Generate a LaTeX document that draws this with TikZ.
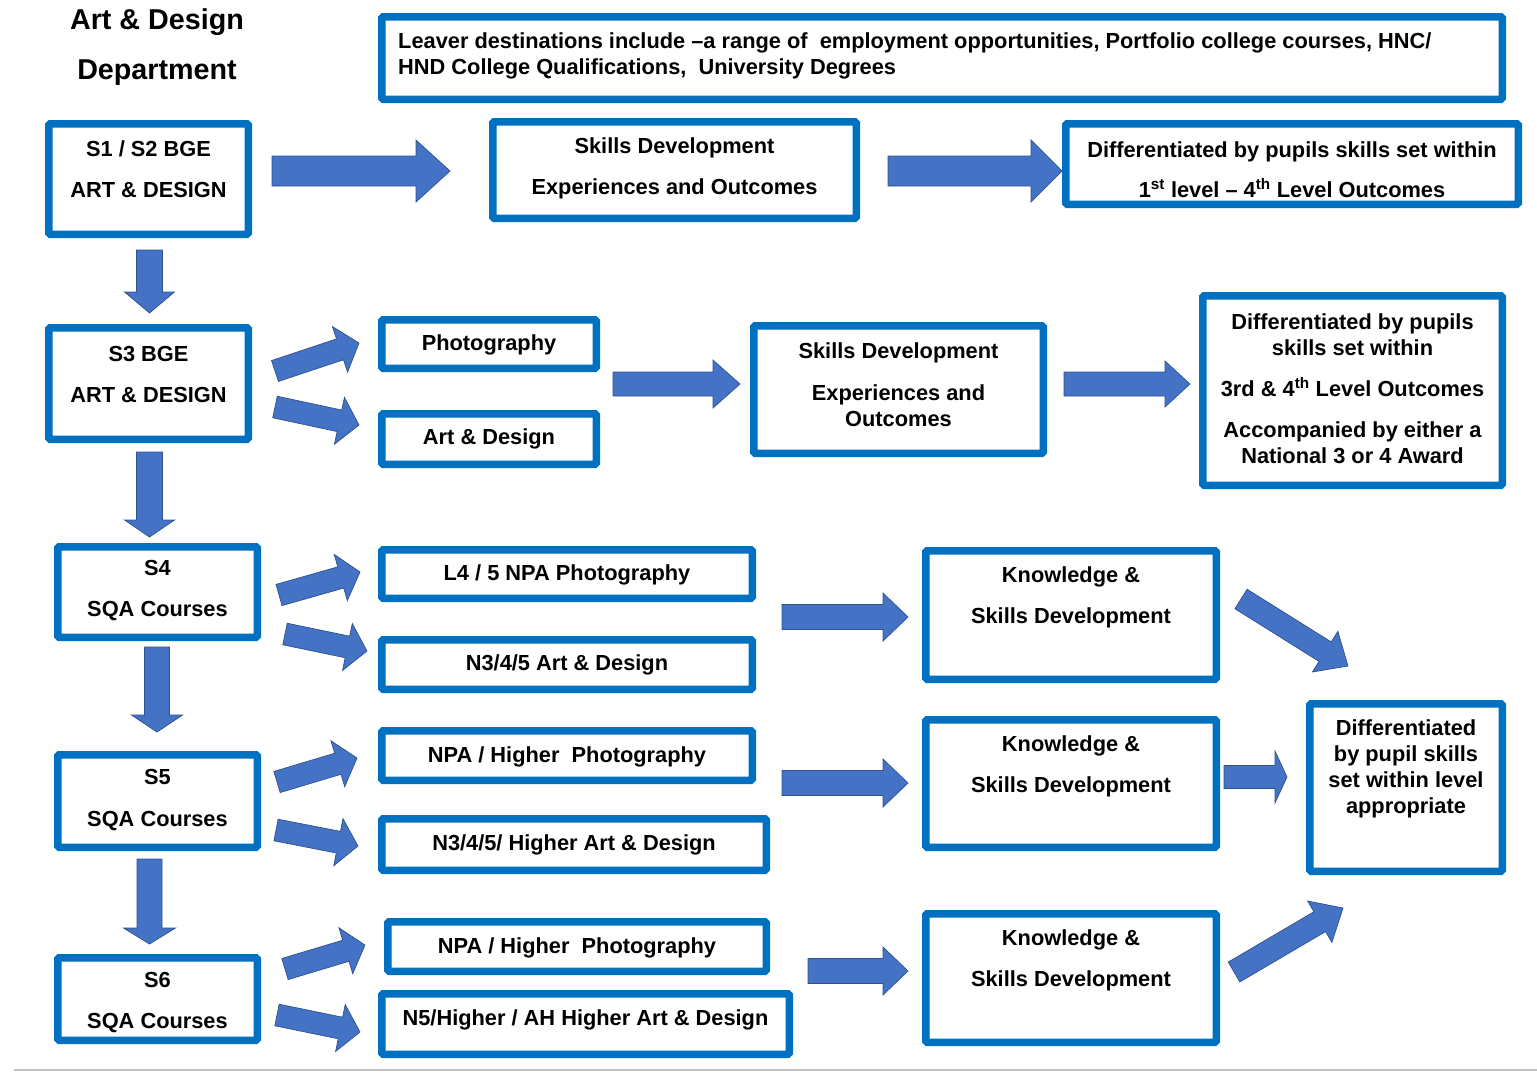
\documentclass[tikz,border=0pt]{standalone}
\usepackage{fontspec}
\setmainfont{Liberation Sans}
\usetikzlibrary{calc}

\definecolor{boxblue}{HTML}{0070C0}
\definecolor{arrowblue}{HTML}{4472C4}
\definecolor{arrowedge}{HTML}{2F528F}
\definecolor{rulegray}{HTML}{C0C0C0}

\tikzset{
  box/.style={draw=boxblue, line width=7.5pt, rounded corners=1.5pt, fill=white, inner sep=0pt},
  txt/.style={font=\bfseries\fontsize{21.8}{26}\selectfont, align=center, inner sep=0pt, yshift=-1.5pt},
  heading/.style={font=\bfseries\fontsize{28.7}{34}\selectfont, align=center, inner sep=0pt, yshift=-2pt},
  barrow/.style={fill=arrowblue, draw=arrowedge, line width=0.7pt},
}

% block arrow: start, end, shaft half width, head half width, head length
\newcommand{\barrow}[5]{%
  \filldraw[barrow] let \p1=(#1), \p2=(#2),
    \n1={atan2(\y2-\y1,\x2-\x1)}, \n2={veclen(\x2-\x1,\y2-\y1)} in
    [shift={(\p1)}, rotate=\n1]
    (0pt,#3) -- ({\n2-#5},#3) -- ({\n2-#5},#4) -- (\n2,0pt)
    -- ({\n2-#5},-#4) -- ({\n2-#5},-#3) -- (0pt,-#3) -- cycle;}

\begin{document}
\begin{tikzpicture}[x=1pt, y=-1pt]
  \useasboundingbox (0,0) rectangle (1537,1072);

  \node[heading] (title) at (157,45) {Art \& Design\\[16pt]Department};

  % boxes
  \node[box, minimum width=1120.5pt, minimum height=82.5pt] (lead)  at (942,58) {};
  \node[box, minimum width=199.5pt, minimum height=110.5pt] (s12)   at (148.5,179) {};
  \node[box, minimum width=363.5pt, minimum height=96.5pt]  (skA)   at (674.5,170) {};
  \node[box, minimum width=452.5pt, minimum height=80.5pt]  (difA)  at (1292,164) {};
  \node[box, minimum width=199.5pt, minimum height=111.5pt] (s3)    at (148.5,383.5) {};
  \node[box, minimum width=214.5pt, minimum height=48.5pt]  (photoA) at (489,344) {};
  \node[box, minimum width=214.5pt, minimum height=50.5pt]  (adA)   at (489,439) {};
  \node[box, minimum width=289.5pt, minimum height=127.5pt] (skB)   at (898.5,389.5) {};
  \node[box, minimum width=299.5pt, minimum height=189.5pt] (difB)  at (1352.5,390.5) {};
  \node[box, minimum width=199.5pt, minimum height=90.5pt]  (s4)    at (157.5,592) {};
  \node[box, minimum width=370.5pt, minimum height=48.5pt]  (npaA)  at (567,574) {};
  \node[box, minimum width=370.5pt, minimum height=49.5pt]  (n345)  at (567,664.5) {};
  \node[box, minimum width=290.5pt, minimum height=128.5pt] (knA)   at (1071,615) {};
  \node[box, minimum width=199.5pt, minimum height=92.5pt]  (s5)    at (157.5,801) {};
  \node[box, minimum width=370.5pt, minimum height=49.5pt]  (npaB)  at (567,755.5) {};
  \node[box, minimum width=384.5pt, minimum height=51.5pt]  (n345h) at (574,844.5) {};
  \node[box, minimum width=290.5pt, minimum height=127.5pt] (knB)   at (1071,783.5) {};
  \node[box, minimum width=192.5pt, minimum height=167.5pt] (final) at (1406,787.5) {};
  \node[box, minimum width=199.5pt, minimum height=82.5pt]  (s6)    at (157.5,999) {};
  \node[box, minimum width=378.5pt, minimum height=49.5pt]  (npaC)  at (577,946.5) {};
  \node[box, minimum width=407.5pt, minimum height=60.5pt]  (n5ah)  at (585.5,1024) {};
  \node[box, minimum width=290.5pt, minimum height=128.5pt] (knC)   at (1071,978) {};

  % texts
  \node[txt, align=left, anchor=west] (leadt) at (398,54)
    {Leaver destinations include --a range of\ \ employment opportunities, Portfolio college courses, HNC/\\
     HND College Qualifications,\ \ University Degrees};
  \node[txt] (s12t)   at (148.5,167.5) {S1 / S2 BGE\\[15pt]ART \& DESIGN};
  \node[txt] (skAt)   at (674.5,166.5) {Skills Development\\[15pt]Experiences and Outcomes};
  \node[txt] (difAt)  at (1292,168) {Differentiated by pupils skills set within\\[14pt]
    1\textsuperscript{st} level -- 4\textsuperscript{th} Level Outcomes};
  \node[txt] (s3t)    at (148.5,372.5) {S3 BGE\\[15pt]ART \& DESIGN};
  \node[txt] (photoAt) at (489,343) {Photography};
  \node[txt] (adAt)   at (489,437) {Art \& Design};
  \node[txt] (skBt)   at (898.5,383) {Skills Development\\[16pt]Experiences and\\Outcomes};
  \node[txt] (difBt)  at (1352.5,387) {Differentiated by pupils\\skills set within\\[15pt]
    3rd \& 4\textsuperscript{th} Level Outcomes\\[15pt]Accompanied by either a\\National 3 or 4 Award};
  \node[txt] (s4t)    at (157.5,589.5) {S4\\[15pt]SQA Courses};
  \node[txt] (npaAt)  at (567,573) {L4 / 5 NPA Photography};
  \node[txt] (n345t)  at (567,663) {N3/4/5 Art \& Design};
  \node[txt] (knAt)   at (1071,595.5) {Knowledge \&\\[15pt]Skills Development};
  \node[txt] (s5t)    at (157.5,799) {S5\\[16pt]SQA Courses};
  \node[txt] (npaBt)  at (567,755) {NPA / Higher\ \ Photography};
  \node[txt] (n345ht) at (574,843) {N3/4/5/ Higher Art \& Design};
  \node[txt] (knBt)   at (1071,764.5) {Knowledge \&\\[15pt]Skills Development};
  \node[txt] (finalt) at (1406,767) {Differentiated\\by pupil skills\\set within level\\appropriate};
  \node[txt] (s6t)    at (157.5,1001.5) {S6\\[15pt]SQA Courses};
  \node[txt] (npaCt)  at (577,946) {NPA / Higher\ \ Photography};
  \node[txt] (n5aht)  at (585.5,1018) {N5/Higher / AH Higher Art \& Design};
  \node[txt] (knCt)   at (1071,958.5) {Knowledge \&\\[15pt]Skills Development};

  % arrows, top row
  \barrow{[shift={(20,-8)}]s12.east}{[shift={(-39,1)}]skA.west}{15pt}{31pt}{34pt}
  \barrow{[shift={(28,1)}]skA.east}{[shift={(0,7)}]difA.west}{15pt}{31pt}{31pt}
  % S3 row
  \barrow{[shift={(1,12)}]s12.south}{[shift={(1,-11)}]s3.north}{13pt}{25pt}{21pt}
  \barrow{[shift={(23,-12.5)}]s3.east}{[shift={(-19,-1)}]photoA.west}{11pt}{24pt}{20pt}
  \barrow{[shift={(23,23.5)}]s3.east}{[shift={(-19,-14)}]adA.west}{11pt}{24pt}{20pt}
  \barrow{[shift={(13,12)}]photoA.south east}{[shift={(-10,-5.5)}]skB.west}{12pt}{24pt}{27pt}
  \barrow{[shift={(17,-5.5)}]skB.east}{[shift={(-9,-6.5)}]difB.west}{12pt}{23pt}{25pt}
  % S4 row
  \barrow{[shift={(1,9)}]s3.south}{[shift={(-8,-6)}]s4.north}{13pt}{25pt}{17pt}
  \barrow{[shift={(18,3)}]s4.east}{[shift={(-18,-2)}]npaA.west}{11pt}{24pt}{20pt}
  \barrow{[shift={(24,42)}]s4.east}{[shift={(-11,-13.5)}]n345.west}{11pt}{24pt}{20pt}
  \barrow{[shift={(26,15)}]npaA.south east}{[shift={(-14,2)}]knA.west}{12.5pt}{24pt}{25pt}
  \barrow{[shift={(21,-16)}]knA.east}{[shift={(-58,-34)}]final.north}{11.5pt}{24pt}{27pt}
  % S5 row
  \barrow{[shift={(-0.5,6)}]s4.south}{[shift={(-0.5,-19)}]s5.north}{12.5pt}{25.5pt}{17pt}
  \barrow{[shift={(16,-19)}]s5.east}{[shift={(-21,2.5)}]npaB.west}{11pt}{24pt}{20pt}
  \barrow{[shift={(15,29)}]s5.east}{[shift={(-20,1.5)}]n345h.west}{11pt}{24pt}{20pt}
  \barrow{[shift={(26,-1)}]npaB.south east}{[shift={(-14,-0.5)}]knB.west}{12.5pt}{24pt}{25pt}
  \barrow{[shift={(4,-6.5)}]knB.east}{[shift={(-19,-10.5)}]final.west}{11.5pt}{26pt}{12pt}
  % S6 row
  \barrow{[shift={(-8,8)}]s5.south}{[shift={(-8,-10)}]s6.north}{12.5pt}{26pt}{16pt}
  \barrow{[shift={(24,-30)}]s6.east}{[shift={(-19,-1.5)}]npaC.west}{11pt}{24pt}{20pt}
  \barrow{[shift={(16,16)}]s6.east}{[shift={(-18,8)}]n5ah.west}{11pt}{24pt}{20pt}
  \barrow{[shift={(38,-4)}]npaC.south east}{[shift={(-14,-7)}]knC.west}{12.5pt}{24pt}{25pt}
  \barrow{[shift={(14,-6)}]knC.east}{[shift={(-63,33)}]final.south}{11.5pt}{24pt}{27pt}

  \draw[rulegray, line width=2.5pt] (14,1070) -- (1537,1070);
\end{tikzpicture}
\end{document}
